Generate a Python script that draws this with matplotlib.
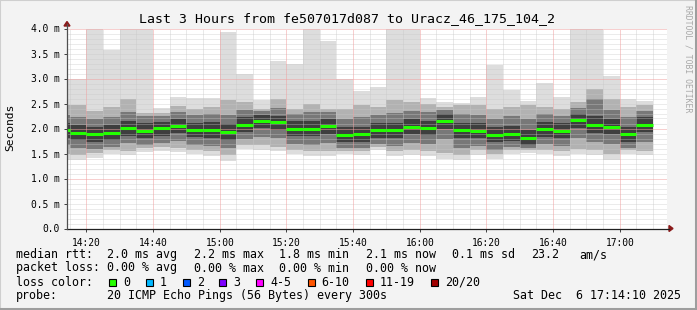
import matplotlib
matplotlib.use("Agg")
import matplotlib.pyplot as plt
from matplotlib.lines import Line2D
from matplotlib.patches import Rectangle, Polygon

# ---------------- data ----------------
bar_start = ["14:10", "14:15", "14:20", "14:25", "14:30", "14:35", "14:40", "14:45", "14:50",
             "14:55", "15:00", "15:05", "15:10", "15:15", "15:20", "15:25", "15:30", "15:35",
             "15:40", "15:45", "15:50", "15:55", "16:00", "16:05", "16:10", "16:15", "16:20",
             "16:25", "16:30", "16:35", "16:40", "16:45", "16:50", "16:55", "17:00", "17:05"]

# smoke quantiles (ms): min, low, mid-low, inner-low, median, inner-high, mid-high, high, max
ping_min = [1.38, 1.38, 1.42, 1.50, 1.47, 1.54, 1.55, 1.54, 1.50, 1.45, 1.36, 1.60, 1.58, 1.55, 1.50, 1.46, 1.45, 1.49,
            1.47, 1.57, 1.45, 1.47, 1.45, 1.40, 1.38, 1.48, 1.40, 1.50, 1.52, 1.50, 1.45, 1.50, 1.48, 1.38, 1.50, 1.47]
ping_lo3 = [1.50, 1.48, 1.52, 1.58, 1.56, 1.62, 1.63, 1.62, 1.58, 1.55, 1.48, 1.68, 1.68, 1.64, 1.58, 1.56, 1.55, 1.56,
            1.55, 1.64, 1.55, 1.57, 1.55, 1.52, 1.48, 1.57, 1.50, 1.58, 1.58, 1.58, 1.55, 1.60, 1.57, 1.50, 1.58, 1.56]
ping_lo2 = [1.68, 1.62, 1.60, 1.64, 1.72, 1.68, 1.72, 1.76, 1.68, 1.66, 1.62, 1.80, 1.84, 1.82, 1.70, 1.68, 1.72, 1.62,
            1.62, 1.70, 1.66, 1.72, 1.70, 1.80, 1.62, 1.66, 1.58, 1.64, 1.62, 1.70, 1.66, 1.82, 1.74, 1.70, 1.62, 1.74]
ping_lo1 = [1.82, 1.77, 1.74, 1.77, 1.86, 1.81, 1.86, 1.91, 1.83, 1.82, 1.78, 1.94, 2.01, 1.98, 1.85, 1.85, 1.90, 1.73,
            1.74, 1.82, 1.82, 1.89, 1.87, 2.00, 1.81, 1.81, 1.73, 1.75, 1.68, 1.84, 1.81, 2.01, 1.92, 1.89, 1.74, 1.93]
median = [1.97, 1.92, 1.89, 1.92, 2.01, 1.96, 2.01, 2.06, 1.98, 1.98, 1.94, 2.08, 2.16, 2.13, 2.00, 2.00, 2.05, 1.88,
          1.89, 1.97, 1.97, 2.04, 2.02, 2.16, 1.97, 1.96, 1.88, 1.90, 1.82, 1.99, 1.96, 2.17, 2.08, 2.04, 1.89, 2.08]
ping_hi1 = [2.11, 2.06, 2.04, 2.06, 2.16, 2.10, 2.14, 2.19, 2.12, 2.13, 2.09, 2.22, 2.28, 2.26, 2.14, 2.15, 2.19, 2.03,
            2.04, 2.11, 2.12, 2.18, 2.16, 2.29, 2.12, 2.11, 2.03, 2.05, 1.97, 2.13, 2.10, 2.30, 2.26, 2.19, 2.04, 2.22]
ping_hi2 = [2.27, 2.22, 2.20, 2.22, 2.34, 2.24, 2.25, 2.33, 2.28, 2.30, 2.27, 2.38, 2.36, 2.42, 2.30, 2.34, 2.33, 2.20,
            2.22, 2.28, 2.32, 2.36, 2.34, 2.38, 2.30, 2.28, 2.20, 2.24, 2.18, 2.30, 2.26, 2.42, 2.60, 2.38, 2.22, 2.36]
ping_hi3 = [2.47, 2.47, 2.35, 2.43, 2.60, 2.31, 2.31, 2.45, 2.40, 2.43, 2.57, 2.53, 2.40, 2.60, 2.40, 2.50, 2.40, 2.40,
            2.47, 2.43, 2.57, 2.53, 2.50, 2.43, 2.48, 2.47, 2.40, 2.43, 2.47, 2.43, 2.40, 2.53, 2.80, 2.60, 2.43, 2.47]
ping_max = [3.00, 3.00, 4.00, 3.57, 4.00, 4.00, 2.41, 2.64, 2.61, 2.61, 3.93, 3.10, 2.57, 3.35, 3.30, 4.00, 3.76, 3.00,
            2.76, 2.83, 4.00, 4.00, 2.60, 2.53, 2.51, 2.63, 3.28, 2.78, 2.55, 2.92, 2.63, 4.00, 4.00, 3.05, 2.60, 2.55]

x_start_label, x_end_label = "14:14:10", "17:14:10"
x_tick_labels = ["14:20", "14:40", "15:00", "15:20", "15:40", "16:00", "16:20", "16:40", "17:00"]
y_tick_values = [0.0, 0.5, 1.0, 1.5, 2.0, 2.5, 3.0, 3.5, 4.0]
y_tick_labels = ["0.0", "0.5 m", "1.0 m", "1.5 m", "2.0 m", "2.5 m", "3.0 m", "3.5 m", "4.0 m"]

title = "Last 3 Hours from fe507017d087 to Uracz_46_175_104_2"
legend_rows = [
    ("median rtt:", ["2.0 ms avg", "2.2 ms max", "1.8 ms min", "2.1 ms now", "0.1 ms sd", "23.2", "am/s"]),
    ("packet loss:", ["0.00 % avg", "0.00 % max", "0.00 % min", "0.00 % now"]),
]
loss_labels = ["0", "1", "2", "3", "4-5", "6-10", "11-19", "20/20"]
loss_colors = ["#26ff00", "#00b8ff", "#0059ff", "#7e00ff", "#ff00ff", "#ff5500", "#ff0000", "#a10000"]
probe_text = "20 ICMP Echo Pings (56 Bytes) every 300s"
date_text = "Sat Dec  6 17:14:10 2025"


def to_min(s):
    parts = [int(p) for p in s.split(":")]
    while len(parts) < 3:
        parts.append(0)
    return parts[0] * 60 + parts[1] + parts[2] / 60.0


# ---------------- figure ----------------
W, H = 697, 310
MONO = "DejaVu Sans Mono"
fig = plt.figure(figsize=(W / 100, H / 100), dpi=100, facecolor="#f3f3f3")

# frame
fig.patches.append(Rectangle((0, 0), 1, 1, transform=fig.transFigure, fill=False,
                             edgecolor="#cfcfcf", linewidth=1.5))
fig.add_artist(Line2D([0, 1], [1.5 / H, 1.5 / H], color="#9e9e9e", lw=2.2, transform=fig.transFigure))
fig.add_artist(Line2D([1 - 1.5 / W, 1 - 1.5 / W], [0, 1], color="#9e9e9e", lw=2.2, transform=fig.transFigure))

L, R, T, B = 67, 667, 28.5, 228.5
ax = fig.add_axes([L / W, 1 - B / H, (R - L) / W, (B - T) / H])
ax.set_facecolor("white")
x0, x1 = to_min(x_start_label), to_min(x_end_label)
ax.set_xlim(x0, x1)
ax.set_ylim(0, 4.0)

DOT = (0, (1, 1))
GRID_MINOR = "#c8c8c8"
GRID_MAJOR = "#f0a0a0"

minor_x = [to_min(s) for s in bar_start[1:]] + [to_min("17:10")]
major_x = [to_min(s) for s in x_tick_labels]
minor_y = [i / 10 for i in range(1, 40) if i % 10]
major_y = [1.0, 2.0, 3.0, 4.0]

# smoke layers (outermost first)
xs = [to_min(s) for s in bar_start]
layers = [
    (ping_min, ping_max, "#dddddd"),
    (ping_lo3, ping_hi3, "#b2b2b2"),
    (ping_lo2, ping_hi2, "#787878"),
    (ping_lo1, ping_hi1, "#3e3e3e"),
]
for lo, hi, col in layers:
    ax.bar(xs, [h - l for l, h in zip(lo, hi)], bottom=lo, width=5, align="edge",
           color=col, linewidth=0, zorder=1, antialiased=False)

# grid over the smoke
for xv in minor_x:
    if xv not in major_x:
        ax.axvline(xv, color=GRID_MINOR, lw=0.72, ls=DOT, zorder=2, alpha=0.8)
for yv in minor_y:
    ax.axhline(yv, color=GRID_MINOR, lw=0.72, ls=DOT, zorder=2, alpha=0.7)
for xv in major_x:
    ax.axvline(xv, color=GRID_MAJOR, lw=0.72, ls=DOT, zorder=2.1)
for yv in major_y:
    ax.axhline(yv, color=GRID_MAJOR, lw=0.72, ls=DOT, zorder=2.1)

# median line
ax.hlines(median, xs, [x + 5 for x in xs], colors="#22ff00", linewidth=2.2, zorder=3)

# axes / ticks
for s in ax.spines.values():
    s.set_visible(False)
ax.set_xticks(major_x)
ax.set_xticklabels(x_tick_labels, fontfamily=MONO, fontsize=6.9)
ax.set_yticks(y_tick_values)
ax.set_yticklabels(y_tick_labels, fontfamily=MONO, fontsize=6.9)
ax.tick_params(axis="both", length=2.5, width=0.7, color="#404040", pad=3)
ax.tick_params(axis="x", pad=4)

# axis lines with arrows
fig.add_artist(Line2D([L / W, 669 / W], [1 - B / H, 1 - B / H], color="#202020", lw=0.9,
                      transform=fig.transFigure))
fig.add_artist(Line2D([L / W, L / W], [1 - B / H, 1 - 24 / H], color="#505050", lw=0.9,
                      transform=fig.transFigure))
fig.add_artist(Polygon([[669 / W, 1 - 225.5 / H], [673 / W, 1 - B / H], [669 / W, 1 - 231.5 / H]],
                       closed=True, color="#8b1a1a", transform=fig.transFigure))
fig.add_artist(Polygon([[64 / W, 1 - 26 / H], [L / W, 1 - 21.5 / H], [70 / W, 1 - 26 / H]],
                       closed=True, color="#8b1a1a", transform=fig.transFigure))

# texts
def ftext(x, y, s, **kw):
    kw.setdefault("fontfamily", MONO)
    fig.text(x / W, 1 - y / H, s, **kw)

ftext(347, 19, title, fontsize=9.5, ha="center", va="center")
ftext(10, 127, "Seconds", fontsize=8.1, rotation=90, ha="center", va="center")
ftext(688, 5, "RRDTOOL / TOBI OETIKER", fontsize=5.9, rotation=270, ha="center", va="top", color="#a8a8a8")

col_x = [107.3, 194, 279.3, 365.7, 451.7, 530.7, 579.3]
row_y = [254.7, 268, 282, 295.3]
LFS = 8.4
for (head, items), y in zip(legend_rows, row_y):
    ftext(16, y, head, fontsize=LFS, va="center")
    for s, x in zip(items, col_x):
        ftext(x, y, s, fontsize=LFS, va="center")

ftext(16, row_y[2], "loss color:", fontsize=LFS, va="center")
box_x = [108.7, 145.7, 182.7, 219.3, 256, 308, 365.7, 431]
lab_x = [123.3, 160, 196.7, 233.3, 270, 321.7, 380, 445]
for bx, lx, lab, c in zip(box_x, lab_x, loss_labels, loss_colors):
    fig.patches.append(Rectangle((bx / W, 1 - 285.5 / H), 6.8 / W, 6.8 / H, transform=fig.transFigure,
                                 facecolor=c, edgecolor="black", linewidth=0.8))
    ftext(lx, row_y[2], lab, fontsize=LFS, va="center")

ftext(16, row_y[3], "probe:", fontsize=LFS, va="center")
ftext(107.3, row_y[3], probe_text, fontsize=LFS, va="center")
ftext(681, row_y[3], date_text, fontsize=LFS, va="center", ha="right")

fig.savefig("out.png", dpi=100, facecolor=fig.get_facecolor())
